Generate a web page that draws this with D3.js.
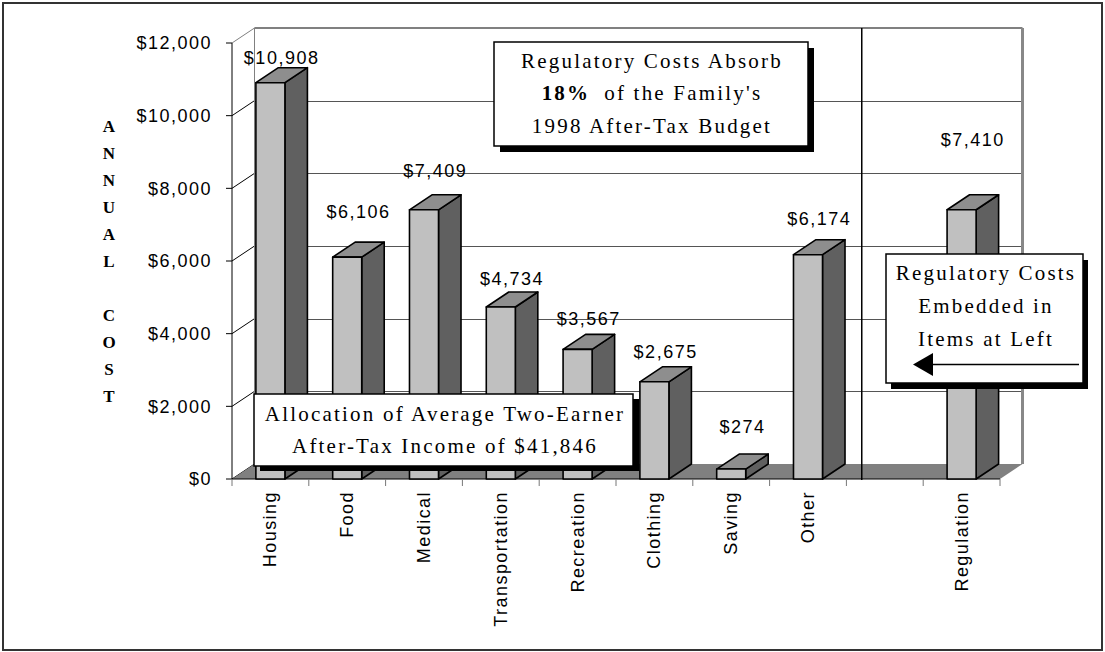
<!DOCTYPE html>
<html>
<head>
<meta charset="utf-8">
<script src="https://cdn.jsdelivr.net/npm/d3@7"></script>
<style>
  html, body { margin: 0; padding: 0; background: #fff; }
  svg { display: block; }
</style>
</head>
<body>
<script>
// ---------------- data ----------------
const categories = ["Housing", "Food", "Medical", "Transportation", "Recreation", "Clothing", "Saving", "Other", "", "Regulation"];
const values = [10908, 6106, 7409, 4734, 3567, 2675, 274, 6174, null, 7410];
const yTicks = [0, 2000, 4000, 6000, 8000, 10000, 12000];
const yTitleLetters = ["A", "N", "N", "U", "A", "L", "", "C", "O", "S", "T"];
const box1Lines = ["Regulatory Costs Absorb", "of the Family's", "1998 After-Tax Budget"];
const box1Bold = "18%";
const box2Lines = ["Allocation of Average Two-Earner", "After-Tax Income of $41,846"];
const box3Lines = ["Regulatory Costs", "Embedded in", "Items at Left"];

// ---------------- layout ----------------
const W = 1105, H = 652;
const DX = 22.5, DY = -15;           // 3D depth offset
const labelLift = [19, 39, 33, 22, 24, 24, 36, 30, 0, 64]; // px above bar front top

const svg = d3.select("body").append("svg").attr("width", W).attr("height", H);

const x = d3.scaleBand().domain(categories).range([232, 1000]).padding(0);
const y = d3.scaleLinear().domain([0, 12000]).range([479, 43]);
const fmt = v => "$" + d3.format(",")(v);

const x0 = x.range()[0], x1 = x.range()[1];
const yb = y(0), yt = y(12000);

// outer frame
svg.append("rect").attr("x", 3).attr("y", 3).attr("width", 1099).attr("height", 647)
  .attr("fill", "#fff").attr("stroke", "#333").attr("stroke-width", 2);

// walls
svg.append("polygon")
  .attr("points", [[x0, yt], [x0 + DX, yt + DY], [x0 + DX, yb + DY], [x0, yb]].join(" "))
  .attr("fill", "#fff");
svg.append("rect").attr("x", x0 + DX).attr("y", yt + DY).attr("width", x1 - x0).attr("height", yb - yt)
  .attr("fill", "#fff");

// back wall gridlines
const gridG = svg.append("g");
yTicks.filter(t => t > 0 && t < 12000).forEach(t => {
  gridG.append("line").attr("x1", x0 + DX).attr("x2", x1 + DX)
    .attr("y1", Math.round(y(t) + DY) + 0.5).attr("y2", Math.round(y(t) + DY) + 0.5)
    .attr("stroke", "#555").attr("stroke-width", 1);
});
// left wall slanted gridlines
yTicks.forEach(t => {
  gridG.append("line").attr("x1", x0).attr("y1", y(t)).attr("x2", x0 + DX).attr("y2", y(t) + DY)
    .attr("stroke", t === 12000 ? "#808080" : "#000").attr("stroke-width", 1);
});
// wall edges
svg.append("line").attr("x1", x0 + DX).attr("x2", x1 + DX).attr("y1", yt + DY).attr("y2", yt + DY)
  .attr("stroke", "#808080").attr("stroke-width", 2);
svg.append("line").attr("x1", x1 + DX).attr("x2", x1 + DX).attr("y1", yt + DY).attr("y2", yb + DY)
  .attr("stroke", "#888").attr("stroke-width", 3);
svg.append("line").attr("x1", x0 + DX).attr("x2", x0 + DX).attr("y1", yt + DY).attr("y2", yb + DY)
  .attr("stroke", "#808080").attr("stroke-width", 1);

// floor
svg.append("polygon")
  .attr("points", [[x0, yb], [x0 + DX, yb + DY], [x1 + DX, yb + DY], [x1, yb]].join(" "))
  .attr("fill", "#808080");

// divider line between items and regulation
const divX = x("") + x.bandwidth() * 0.2;
svg.append("line").attr("x1", divX).attr("x2", divX).attr("y1", yt + DY).attr("y2", yb + 1)
  .attr("stroke", "#000").attr("stroke-width", 1.5);

// front y axis
svg.append("line").attr("x1", x0).attr("x2", x0).attr("y1", yt).attr("y2", yb)
  .attr("stroke", "#000").attr("stroke-width", 1);
yTicks.forEach(t => {
  svg.append("line").attr("x1", x0 - 6).attr("x2", x0).attr("y1", y(t)).attr("y2", y(t))
    .attr("stroke", "#000").attr("stroke-width", 1);
  svg.append("text").attr("x", x0 - 20).attr("y", y(t)).attr("dy", "0.36em")
    .attr("text-anchor", "end")
    .style("font-family", "'Liberation Sans', Arial, sans-serif").style("font-size", "18px")
    .style("letter-spacing", "1.5px").attr("fill", "#000")
    .text(fmt(t));
});

// x axis line and ticks
svg.append("line").attr("x1", x0).attr("x2", x1).attr("y1", yb).attr("y2", yb)
  .attr("stroke", "#000").attr("stroke-width", 1);
const bounds = categories.map(c => x(c)).concat([x1]);
bounds.forEach(b => {
  svg.append("line").attr("x1", b).attr("x2", b).attr("y1", yb).attr("y2", yb + 7)
    .attr("stroke", "#777").attr("stroke-width", 1);
});

// bars
const bw = x.bandwidth() * 0.378;
const barG = svg.append("g");
categories.forEach((c, i) => {
  const v = values[i];
  if (v == null) return;
  const bx0 = x(c) + (x.bandwidth() - bw) / 2, bx1 = bx0 + bw;
  const ty = y(v);
  const g = barG.append("g").attr("stroke", "#000").attr("stroke-width", 1.6).attr("stroke-linejoin", "round");
  g.append("polygon")
    .attr("points", [[bx1, ty], [bx1 + DX, ty + DY], [bx1 + DX, yb + DY], [bx1, yb]].join(" "))
    .attr("fill", "#606060");
  g.append("polygon")
    .attr("points", [[bx0, ty], [bx0 + DX, ty + DY], [bx1 + DX, ty + DY], [bx1, ty]].join(" "))
    .attr("fill", "#8e8e8e");
  g.append("rect").attr("x", bx0).attr("y", ty).attr("width", bw).attr("height", yb - ty)
    .attr("fill", "#c0c0c0");
});

// value labels
categories.forEach((c, i) => {
  const v = values[i];
  if (v == null) return;
  svg.append("text")
    .attr("x", x(c) + x.bandwidth() / 2 + DX / 2)
    .attr("y", y(v) - labelLift[i])
    .attr("text-anchor", "middle")
    .style("font-family", "'Liberation Sans', Arial, sans-serif").style("font-size", "18px")
    .style("letter-spacing", "1.5px").attr("fill", "#000")
    .text(fmt(v));
});

// x labels (rotated)
categories.forEach(c => {
  if (!c) return;
  const cx = x(c) + x.bandwidth() / 2;
  svg.append("text")
    .attr("transform", `translate(${cx + 6},${yb + 12}) rotate(-90)`)
    .attr("text-anchor", "end")
    .style("font-family", "'Liberation Sans', Arial, sans-serif").style("font-size", "18px")
    .style("letter-spacing", "1.45px").attr("fill", "#000")
    .text(c);
});

// y title stacked letters
yTitleLetters.forEach((L, i) => {
  if (!L) return;
  svg.append("text").attr("x", 109).attr("y", 131.5 + i * 27)
    .attr("text-anchor", "middle")
    .style("font-family", "'Liberation Serif', 'Times New Roman', serif").style("font-size", "17px")
    .style("font-weight", "bold").attr("fill", "#000")
    .text(L);
});

// text boxes
const serif = "'Liberation Serif', 'Times New Roman', serif";
function box(bx, by, bwid, bht, sdx, sdy) {
  svg.append("rect").attr("x", bx + sdx).attr("y", by + sdy).attr("width", bwid).attr("height", bht).attr("fill", "#000");
  svg.append("rect").attr("x", bx).attr("y", by).attr("width", bwid).attr("height", bht)
    .attr("fill", "#fff").attr("stroke", "#000").attr("stroke-width", 1.5);
}
function line(cx, by, txt) {
  return svg.append("text").attr("x", cx).attr("y", by).attr("text-anchor", "middle")
    .style("font-family", serif).style("font-size", "21px").style("letter-spacing", "2.2px")
    .attr("fill", "#000").text(txt);
}

// box 1
box(494, 42, 314, 104, 6, 6);
line(652, 68, box1Lines[0]);
{
  const t = svg.append("text").attr("x", 652).attr("y", 100).attr("text-anchor", "middle")
    .style("font-family", serif).style("font-size", "21px").style("letter-spacing", "2.2px").attr("fill", "#000");
  t.append("tspan").style("font-weight", "bold").text(box1Bold);
  t.append("tspan").attr("dx", 14).text(box1Lines[1]);
}
line(652, 133, box1Lines[2]);

// box 2
box(254, 394, 379, 72, 6, 5);
line(445, 421, box2Lines[0]);
line(445, 453, box2Lines[1]);

// box 3
box(886, 254, 197, 129, 5, 6);
line(986, 280, box3Lines[0]);
line(986, 313, box3Lines[1]);
line(986, 346, box3Lines[2]);
svg.append("line").attr("x1", 930).attr("x2", 1079).attr("y1", 364.5).attr("y2", 364.5)
  .attr("stroke", "#000").attr("stroke-width", 1.5);
svg.append("polygon").attr("points", "913,364.5 933,353 933,376").attr("fill", "#000");
</script>
</body>
</html>
